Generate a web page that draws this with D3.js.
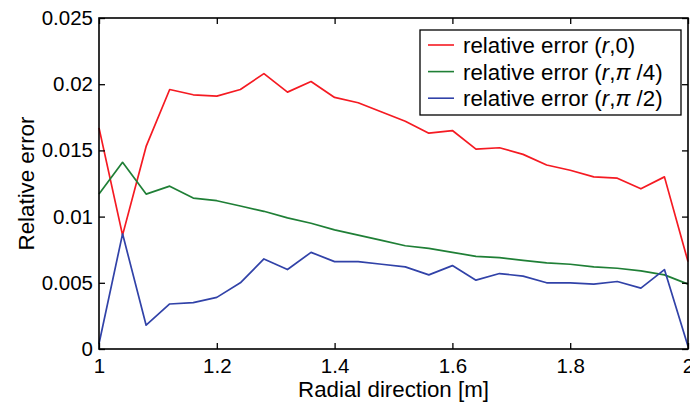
<!DOCTYPE html>
<html>
<head>
<meta charset="utf-8">
<script src="https://cdn.jsdelivr.net/npm/d3@7"></script>
<style>
  body { margin: 0; background: #fff; }
  svg { display: block; font-family: "Liberation Sans", Arial, sans-serif; }
</style>
</head>
<body>
<svg id="chart" width="690" height="405"></svg>
<script>
// radial positions [m]
var radialPos = [1.00, 1.04, 1.08, 1.12, 1.16, 1.20, 1.24, 1.28, 1.32, 1.36, 1.40, 1.44, 1.48,
                 1.52, 1.56, 1.60, 1.64, 1.68, 1.72, 1.76, 1.80, 1.84, 1.88, 1.92, 1.96, 2.00];

var errTheta0  = [0.0167, 0.0086, 0.0153, 0.0196, 0.0192, 0.0191, 0.0196, 0.0208, 0.0194, 0.0202,
                  0.0190, 0.0186, 0.0179, 0.0172, 0.0163, 0.0165, 0.0151, 0.0152, 0.0147, 0.0139,
                  0.0135, 0.0130, 0.0129, 0.0121, 0.0130, 0.0066];
var errThetaQ  = [0.0117, 0.0141, 0.0117, 0.0123, 0.0114, 0.0112, 0.0108, 0.0104, 0.0099, 0.0095,
                  0.0090, 0.0086, 0.0082, 0.0078, 0.0076, 0.0073, 0.0070, 0.0069, 0.0067, 0.0065,
                  0.0064, 0.0062, 0.0061, 0.0059, 0.0056, 0.0049];
var errThetaH  = [0.0004, 0.0087, 0.0018, 0.0034, 0.0035, 0.0039, 0.0050, 0.0068, 0.0060, 0.0073,
                  0.0066, 0.0066, 0.0064, 0.0062, 0.0056, 0.0063, 0.0052, 0.0057, 0.0055, 0.0050,
                  0.0050, 0.0049, 0.0051, 0.0046, 0.0060, 0.0002];

var xTicks = [1, 1.2, 1.4, 1.6, 1.8, 2];
var yTicks = [0, 0.005, 0.01, 0.015, 0.02, 0.025];
var yTickLabels = ["0", "0.005", "0.01", "0.015", "0.02", "0.025"];

var seriesColors = ["#f51a22", "#1f7f36", "#3142a8"];

var svg = d3.select("#chart");
var plotL = 99, plotR = 688, plotT = 18, plotB = 349;

var x = d3.scaleLinear().domain([1, 2]).range([plotL, plotR]);
var y = d3.scaleLinear().domain([0, 0.025]).range([plotB, plotT]);

// curves
var line = d3.line()
  .x(function(d, i) { return x(radialPos[i]); })
  .y(function(d) { return y(d); });

var allSeries = [errTheta0, errThetaQ, errThetaH];

allSeries.forEach(function(s, k) {
  svg.append("path")
    .attr("d", line(s))
    .attr("fill", "none")
    .attr("stroke", seriesColors[k])
    .attr("stroke-width", 1.7)
    .attr("stroke-linejoin", "round");
});

// axes, MATLAB style: inward ticks, box on
var tickLen = 6;
var axisFont = "20.5px";

var xAxis = d3.axisBottom(x).tickValues(xTicks).tickSizeInner(-tickLen).tickSizeOuter(0)
  .tickPadding(9).tickFormat(d3.format("~g"));
var gx = svg.append("g").attr("transform", "translate(0," + plotB + ")").call(xAxis);

var yAxis = d3.axisLeft(y).tickValues(yTicks).tickSizeInner(-tickLen).tickSizeOuter(0)
  .tickPadding(6).tickFormat(function(d, i) { return yTickLabels[i]; });
var gy = svg.append("g").attr("transform", "translate(" + plotL + ",0)").call(yAxis);

var gxTop = svg.append("g").attr("transform", "translate(0," + plotT + ")")
  .call(d3.axisTop(x).tickValues(xTicks).tickSizeInner(-tickLen).tickSizeOuter(0).tickFormat(""));
var gyRight = svg.append("g").attr("transform", "translate(" + plotR + ",0)")
  .call(d3.axisRight(y).tickValues(yTicks).tickSizeInner(-tickLen).tickSizeOuter(0).tickFormat(""));

[gx, gy, gxTop, gyRight].forEach(function(g) {
  g.select(".domain").remove();
  g.selectAll(".tick line").attr("stroke", "#000").attr("stroke-width", 1.3);
  g.selectAll(".tick text").attr("fill", "#000").style("font-size", axisFont).style("font-family", "Liberation Sans, Arial, sans-serif");
});
gx.selectAll(".tick text").attr("dy", "0.71em");

svg.append("rect")
  .attr("x", plotL).attr("y", plotT).attr("width", plotR - plotL).attr("height", plotB - plotT)
  .attr("fill", "none").attr("stroke", "#000").attr("stroke-width", 1.6);

// axis labels
svg.append("text")
  .attr("x", (plotL + plotR) / 2).attr("y", 397)
  .attr("text-anchor", "middle").style("font-size", "22.3px")
  .text("Radial direction [m]");

svg.append("text")
  .attr("transform", "translate(34," + ((plotT + plotB) / 2) + ") rotate(-90)")
  .attr("text-anchor", "middle").style("font-size", "22.3px")
  .text("Relative error");

// legend
var legendLabels = [
  [["relative error (", "n"], ["r", "i"], [",0)", "n"]],
  [["relative error (", "n"], ["r", "i"], [",", "n"], ["\u03C0", "i"], [" /4)", "n"]],
  [["relative error (", "n"], ["r", "i"], [",", "n"], ["\u03C0", "i"], [" /2)", "n"]]
];

var lg = svg.append("g");
lg.append("rect")
  .attr("x", 420).attr("y", 30).attr("width", 261).attr("height", 85)
  .attr("fill", "#fff").attr("stroke", "#000").attr("stroke-width", 1.3);

legendLabels.forEach(function(parts, k) {
  var cy = 45 + k * 26.6;
  lg.append("line")
    .attr("x1", 428).attr("x2", 454).attr("y1", cy).attr("y2", cy)
    .attr("stroke", seriesColors[k]).attr("stroke-width", 1.6);
  var t = lg.append("text").attr("x", 463).attr("y", cy).attr("dy", "0.36em")
    .style("font-size", "22.3px");
  parts.forEach(function(p) {
    t.append("tspan").text(p[0]).style("font-style", p[1] == "i" ? "italic" : "normal");
  });
});
</script>
</body>
</html>
